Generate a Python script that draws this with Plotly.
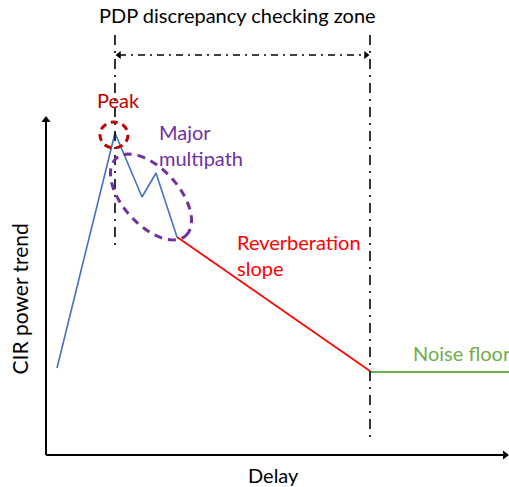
import numpy as np
import plotly.graph_objects as go

# Schematic CIR power trend (delay / power in arbitrary units)
multipath_delay = [1.1, 6.9, 9.6, 11.0, 13.1]
multipath_power = [8.7, 32.2, 25.8, 28.2, 21.8]
reverb_delay = [13.1, 32.4]
reverb_power = [21.8, 8.4]
noise_delay = [32.4, 46.4]
noise_power = [8.3, 8.3]

zone_start = 6.9
zone_end = 32.4

title_text = "PDP discrepancy checking zone"
x_title = "Delay"
y_title = "CIR power trend"

FONT = "Lato"
BLUE = "#4472C4"
RED = "#FF0000"
DARKRED = "#C00000"
PURPLE = "#7030A0"
GREEN = "#70AD47"

fig = go.Figure()

fig.add_trace(go.Scatter(x=multipath_delay, y=multipath_power, mode="lines",
                         line=dict(color=BLUE, width=1.6)))
fig.add_trace(go.Scatter(x=reverb_delay, y=reverb_power, mode="lines",
                         line=dict(color=RED, width=1.6)))
fig.add_trace(go.Scatter(x=noise_delay, y=noise_power, mode="lines",
                         line=dict(color=GREEN, width=2)))

# axes with arrows
fig.add_shape(type="line", x0=0, y0=0, x1=0, y1=33.3, line=dict(color="black", width=2))
fig.add_shape(type="line", x0=0, y0=0, x1=45.9, y1=0, line=dict(color="black", width=2))
fig.add_trace(go.Scatter(x=[0], y=[33.5], mode="markers",
                         marker=dict(symbol="triangle-up", size=8, color="black")))
fig.add_trace(go.Scatter(x=[45.9], y=[0], mode="markers",
                         marker=dict(symbol="triangle-right", size=8, color="black")))

# zone borders
dd = "10px,6px,2px,6px"
fig.add_shape(type="line", x0=zone_start, x1=zone_start, y0=42.0, y1=21.0,
              line=dict(color="black", width=1.6, dash=dd))
fig.add_shape(type="line", x0=zone_end, x1=zone_end, y0=42.0, y1=1.3,
              line=dict(color="black", width=1.6, dash=dd))
fig.add_shape(type="line", x0=zone_start + 0.4, x1=zone_end - 0.4, y0=40.0, y1=40.0,
              line=dict(color="black", width=1.4, dash="7px,5px,2px,5px"))
fig.add_trace(go.Scatter(x=[zone_start + 0.4, zone_end - 0.4], y=[40.0, 40.0], mode="markers",
                         marker=dict(symbol=["triangle-left", "triangle-right"], size=7,
                                     color="black")))

# peak circle
fig.add_shape(type="circle", x0=5.4, x1=8.2, y0=30.7, y1=33.3,
              line=dict(color=DARKRED, width=3, dash="7px,5px"))

# major multipath ellipse (tilted)
t = np.linspace(0, 2 * np.pi, 73)
ang = np.deg2rad(-48)
cx, cy, a, b = 10.5, 25.8, 5.2, 2.8
ex = cx + a * np.cos(t) * np.cos(ang) - b * np.sin(t) * np.sin(ang)
ey = cy + a * np.cos(t) * np.sin(ang) + b * np.sin(t) * np.cos(ang)
path = "M " + " L ".join(f"{x:.3f},{y:.3f}" for x, y in zip(ex, ey)) + " Z"
fig.add_shape(type="path", path=path, line=dict(color=PURPLE, width=3, dash="8px,6px"))

def label(x, y, text, color, xanchor="center", size=20, angle=0):
    fig.add_annotation(x=x, y=y, text=text, showarrow=False, xanchor=xanchor,
                       yanchor="middle", textangle=angle, align="left",
                       font=dict(family=FONT, size=size, color=color))

label(19.15, 44.0, title_text, "black")
label(7.2, 35.5, "Peak", DARKRED)
label(11.1, 31.0, "Major<br>multipath", PURPLE, xanchor="left")
label(18.9, 20.0, "Reverberation<br>slope", RED, xanchor="left")
label(36.5, 10.2, "Noise floor", GREEN, xanchor="left")
label(22.7, -2.0, x_title, "black")
label(-2.75, 15.6, y_title, "black", size=21, angle=-90)

fig.update_xaxes(range=[-4.6, 46.3], visible=False)
fig.update_yaxes(range=[-3.2, 45.5], visible=False)
fig.update_layout(width=509, height=487, margin=dict(l=0, r=0, t=0, b=0),
                  showlegend=False, plot_bgcolor="white", paper_bgcolor="white")

# drop the default page margin so the figure fills the window
fig.write_html("out.html", config={"displayModeBar": False},
               post_script="document.body.style.margin='0';document.body.style.overflow='hidden';")
